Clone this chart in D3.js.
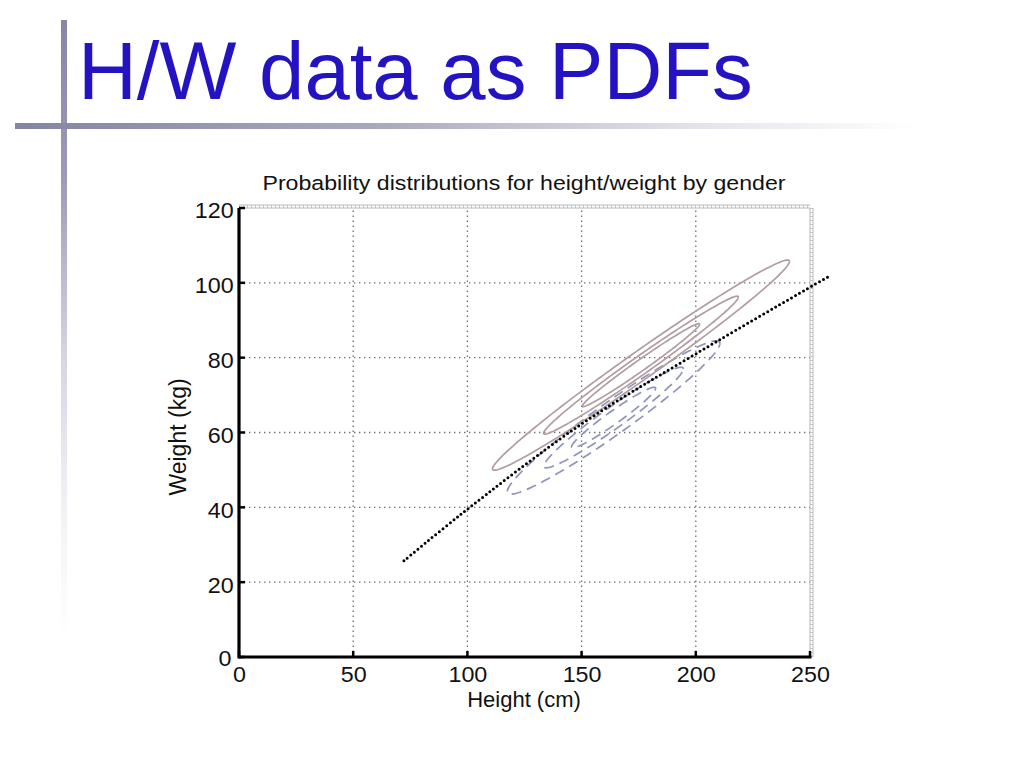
<!DOCTYPE html>
<html>
<head>
<meta charset="utf-8">
<script src="https://cdn.jsdelivr.net/npm/d3@7"></script>
<style>
  html, body { margin: 0; padding: 0; background: #fff; }
  svg { display: block; font-family: "Liberation Sans", Arial, Helvetica, sans-serif; }
</style>
</head>
<body>
<svg id="chart" width="1023" height="767"></svg>
<script>
// ---------------- data ----------------
const slideTitle = "H/W data as PDFs";
const chartTitle = "Probability distributions for height/weight by gender";
const xLabel = "Height (cm)";
const yLabel = "Weight (kg)";
const xTicks = [0, 50, 100, 150, 200, 250];
const yTicks = [0, 20, 40, 60, 80, 100, 120];
const xDomain = [0, 250];
const yDomain = [0, 120];

// Gaussian parameters for each gender: [mean height, mean weight], std devs, correlation
const genders = ["male", "female"];
const means = [[176, 78], [164, 64]];
const stdHeight = [25.7, 18.4];
const stdWeight = [11.1, 8.1];
const correlation = [0.987, 0.966];
// Mahalanobis radii of the drawn contours
const contourLevels = [1, 1.66, 2.53];

// decision boundary (dotted curve)
const boundaryHeight = [72.2, 96.8, 149.3, 200.5, 259.0];
const boundaryWeight = [25.7, 37.95, 62.0, 81.2, 102.0];

// ---------------- drawing ----------------
const svg = d3.select("#chart");
const defs = svg.append("defs");

// slide decoration gradients
const vg = defs.append("linearGradient").attr("id", "vgrad")
  .attr("x1", 0).attr("y1", 0).attr("x2", 0).attr("y2", 1);
vg.append("stop").attr("offset", "0%").attr("stop-color", "#8886a6");
vg.append("stop").attr("offset", "25%").attr("stop-color", "#9c9ab6");
vg.append("stop").attr("offset", "55%").attr("stop-color", "#d6d6e4");
vg.append("stop").attr("offset", "80%").attr("stop-color", "#f3f3f6");
vg.append("stop").attr("offset", "100%").attr("stop-color", "#ffffff");

const hg = defs.append("linearGradient").attr("id", "hgrad")
  .attr("x1", 0).attr("y1", 0).attr("x2", 1).attr("y2", 0);
hg.append("stop").attr("offset", "0%").attr("stop-color", "#8484a4");
hg.append("stop").attr("offset", "40%").attr("stop-color", "#a9a9bd");
hg.append("stop").attr("offset", "75%").attr("stop-color", "#e2e2ea");
hg.append("stop").attr("offset", "100%").attr("stop-color", "#ffffff");

svg.append("rect").attr("x", 61).attr("y", 20).attr("width", 6).attr("height", 620)
  .attr("fill", "url(#vgrad)");
svg.append("rect").attr("x", 15).attr("y", 123).attr("width", 900).attr("height", 6)
  .attr("fill", "url(#hgrad)");

svg.append("text").attr("x", 78).attr("y", 99)
  .attr("font-size", 81.5).attr("fill", "#2313c2")
  .text(slideTitle);

// plot
const x = d3.scaleLinear().domain(xDomain).range([239, 810]);
const y = d3.scaleLinear().domain(yDomain).range([657, 208]);

svg.append("text").attr("x", 524).attr("y", 190)
  .attr("text-anchor", "middle").attr("font-size", 20.5).attr("fill", "#111")
  .attr("textLength", 523).attr("lengthAdjust", "spacingAndGlyphs")
  .text(chartTitle);

// grid
const grid = svg.append("g");
grid.selectAll("line.vx").data(xTicks.filter(d => d > xDomain[0] && d < xDomain[1]))
  .join("line")
  .attr("x1", d => x(d)).attr("x2", d => x(d))
  .attr("y1", y(yDomain[0])).attr("y2", y(yDomain[1]))
  .attr("stroke", "#6f6f6f").attr("stroke-width", 1.3).attr("stroke-dasharray", "1.4,3.6");
grid.selectAll("line.hy").data(yTicks.filter(d => d > yDomain[0] && d < yDomain[1]))
  .join("line")
  .attr("x1", x(xDomain[0])).attr("x2", x(xDomain[1]))
  .attr("y1", d => y(d)).attr("y2", d => y(d))
  .attr("stroke", "#6f6f6f").attr("stroke-width", 1.3).attr("stroke-dasharray", "1.4,3.6");

// top & right gray "ladder" borders
function ladder(x1, y1, x2, y2, horiz) {
  const g = svg.append("g");
  const off = 3;
  g.append("line").attr("x1", x1).attr("y1", y1).attr("x2", x2).attr("y2", y2)
    .attr("stroke", "#b8b8b8").attr("stroke-width", 1);
  g.append("line")
    .attr("x1", horiz ? x1 : x1 + off).attr("y1", horiz ? y1 - off : y1)
    .attr("x2", horiz ? x2 : x2 + off).attr("y2", horiz ? y2 - off : y2)
    .attr("stroke", "#b8b8b8").attr("stroke-width", 1);
  g.append("line")
    .attr("x1", horiz ? x1 : x1 + off / 2).attr("y1", horiz ? y1 - off / 2 : y1)
    .attr("x2", horiz ? x2 : x2 + off / 2).attr("y2", horiz ? y2 - off / 2 : y2)
    .attr("stroke", "#c4c4c4").attr("stroke-width", off).attr("stroke-dasharray", "1,3");
}
ladder(x(xDomain[0]), y(yDomain[1]), x(xDomain[1]), y(yDomain[1]), true);
ladder(x(xDomain[1]), y(yDomain[1]), x(xDomain[1]), y(yDomain[0]), false);

// ellipses (Gaussian contours)
const angles = d3.range(0, 361, 2).map(a => a * Math.PI / 180);
function contour(i, r) {
  const [mx, my] = means[i];
  const sx = stdHeight[i], sy = stdWeight[i], rho = correlation[i];
  return angles.map(t => [
    mx + r * sx * Math.cos(t),
    my + r * (rho * sy * Math.cos(t) + sy * Math.sqrt(1 - rho * rho) * Math.sin(t))
  ]);
}
const line = d3.line().x(d => x(d[0])).y(d => y(d[1]));
const styles = {
  male: { stroke: "#b39ca1", dash: null },
  female: { stroke: "#9093bb", dash: "10,6" }
};
["female", "male"].forEach(gname => {
  const i = genders.indexOf(gname);
  svg.append("g").selectAll("path").data(contourLevels).join("path")
    .attr("d", r => line(contour(i, r)))
    .attr("fill", "none")
    .attr("stroke", styles[gname].stroke)
    .attr("stroke-width", 1.7)
    .attr("stroke-dasharray", styles[gname].dash);
});

// dotted boundary
const bpts = boundaryHeight.map((h, k) => [h, boundaryWeight[k]]);
svg.append("path")
  .attr("d", d3.line().x(d => x(d[0])).y(d => y(d[1])).curve(d3.curveCatmullRom)(bpts))
  .attr("fill", "none").attr("stroke", "#000").attr("stroke-width", 3)
  .attr("stroke-linecap", "round").attr("stroke-dasharray", "0,4.6");

// axes
const xAxis = d3.axisBottom(x).tickValues(xTicks).tickSize(0).tickPadding(9).tickFormat(d3.format("d"));
const yAxis = d3.axisLeft(y).tickValues(yTicks).tickSize(0).tickPadding(6).tickFormat(d3.format("d"));
const gx = svg.append("g").attr("transform", `translate(0,${y(0)})`).call(xAxis);
const gy = svg.append("g").attr("transform", `translate(${x(0)},0)`).call(yAxis);
[gx, gy].forEach(g => {
  g.select(".domain").remove();
  g.selectAll("text").attr("font-size", 22).attr("fill", "#111")
    .attr("font-family", "'Liberation Sans', Arial, Helvetica, sans-serif");
});
gx.selectAll("text").attr("transform", "scale(1.06,1)");
gy.selectAll("text").attr("dy", "0.45em").attr("x", -5).attr("transform", "scale(1.06,1)");
gy.selectAll(".tick").filter(d => d === 0).select("text").attr("dy", "0.4em").attr("x", -7);

// inward tick marks
svg.append("g").selectAll("line").data(xTicks).join("line")
  .attr("x1", d => x(d)).attr("x2", d => x(d))
  .attr("y1", y(0)).attr("y2", y(0) - 6)
  .attr("stroke", "#000").attr("stroke-width", 2.5);
svg.append("g").selectAll("line").data(yTicks).join("line")
  .attr("x1", x(0)).attr("x2", x(0) + 6)
  .attr("y1", d => y(d)).attr("y2", d => y(d))
  .attr("stroke", "#000").attr("stroke-width", 2.5);

// thick axis lines
svg.append("line").attr("x1", x(0)).attr("x2", x(xDomain[1]) + 1.5)
  .attr("y1", y(0)).attr("y2", y(0)).attr("stroke", "#000").attr("stroke-width", 3.2);
svg.append("line").attr("x1", x(0)).attr("x2", x(0))
  .attr("y1", y(yDomain[1])).attr("y2", y(0) + 1.5).attr("stroke", "#000").attr("stroke-width", 3.2);

// axis labels
svg.append("text").attr("x", 524).attr("y", 707)
  .attr("text-anchor", "middle").attr("font-size", 22).attr("fill", "#111")
  .text(xLabel);
svg.append("text").attr("transform", `translate(186,437) rotate(-90)`)
  .attr("text-anchor", "middle").attr("font-size", 23).attr("fill", "#111")
  .text(yLabel);
</script>
</body>
</html>
